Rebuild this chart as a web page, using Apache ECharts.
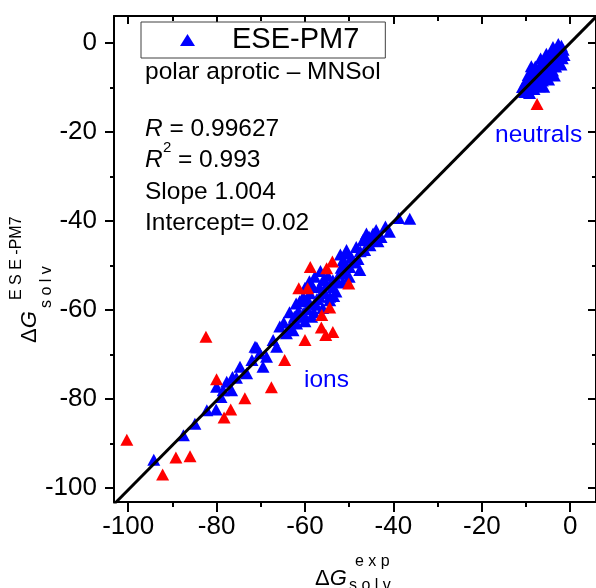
<!DOCTYPE html>
<html><head><meta charset="utf-8">
<script src="https://cdn.jsdelivr.net/npm/echarts@6/dist/echarts.min.js"></script>
<style>html,body{margin:0;padding:0;background:#fff}#c{width:596px;height:588px}</style>
</head><body><div id="c"></div>
<script>
// ESE-PM7 (blue) – neutrals
const neutralExp  = [-10.8,-10.3,-10.0,-9.6,-9.2,-9.0,-8.7,-8.5,-8.2,-8.0,-7.6,-7.3,-7.0,-6.8,-6.5,-6.3,-6.0,-5.7,-5.5,-5.2,-5.0,-4.8,-4.5,-4.2,-4.0,-3.8,-3.5,-3.3,-3.0,-2.8,-2.5,-2.3,-2.0,-1.8,-1.6,-9.8,-7.9,-6.1,-3.9,-4.9,-9.5,-8.8,-6.7,-5.4,-2.1,-3.6,-6.0,-1.4,-2.7];
const neutralCalc = [-9.9,-11.0,-8.6,-10.2,-11.2,-8.0,-9.4,-6.3,-10.3,-7.7,-8.8,-6.0,-9.7,-7.1,-5.2,-8.4,-6.4,-4.6,-7.6,-5.6,-3.4,-6.9,-4.7,-2.6,-6.2,-3.9,-1.8,-5.3,-3.1,-1.0,-4.3,-2.2,-0.6,-3.4,-1.5,-9.0,-5.3,-3.9,-0.9,-8.2,-7.2,-5.2,-3.5,-2.4,-4.8,-7.3,-9.8,-2.7,-0.2];
// ESE-PM7 (blue) – ions
const ionExp  = [-94.2,-87.5,-84.9,-82.2,-80.1,-80.0,-78.5,-77.7,-76.6,-75.5,-74.7,-73.2,-71.3,-70.9,-70.2,-69.5,-68.7,-66.4,-65.7,-63.4,-62.7,-61.9,-60.4,-60.4,-59.7,-58.9,-58.9,-58.2,-56.7,-56.7,-55.9,-54.4,-54.4,-53.7,-53.7,-52.1,-51.4,-50.6,-50.6,-49.9,-47.6,-48.4,-46.9,-46.1,-44.6,-43.9,-40.9,-38.8,-36.3,-61.2,-61.5,-60.8,-59.5,-58.0,-57.5,-57.3,-55.5,-55.0,-54.8,-53.0,-52.6,-51.8,-51.0,-50.0,-49.5,-48.8,-47.5,-45.3,-44.8,-42.8,-41.8,-62.4,-64.2,-67.2,-72.0,-76.4,-79.0,-57.8,-56.5,-59.0,-60.0,-62.0,-63.5,-52.0,-50.8,-48.0,-46.5,-45.5,-43.5,-64.8,-58.5,-56.0,-53.5,-51.5,-60.0];
const ionCalc = [-93.6,-88.1,-85.5,-82.5,-82.3,-77.2,-78.0,-76.1,-78.0,-75.2,-72.7,-74.2,-68.2,-68.4,-69.7,-72.7,-70.5,-68.2,-63.7,-63.7,-64.5,-63.0,-60.7,-57.0,-57.8,-58.5,-56.2,-54.8,-57.0,-54.8,-53.3,-57.8,-57.0,-54.8,-53.3,-51.8,-48.8,-47.3,-46.5,-50.3,-51.0,-45.8,-44.3,-42.8,-42.8,-42.0,-42.4,-39.3,-39.5,-58.0,-60.2,-61.5,-59.8,-60.5,-58.8,-57.5,-56.2,-54.3,-52.3,-55.8,-53.6,-50.5,-51.8,-52.5,-48.2,-49.3,-46.8,-45.4,-44.0,-43.6,-41.2,-61.5,-65.2,-66.7,-71.2,-75.0,-79.5,-52.5,-51.2,-53.5,-55.0,-58.5,-60.5,-47.5,-49.8,-48.5,-46.5,-43.5,-44.5,-62.8,-61.5,-59.5,-56.8,-53.8,-62.5];
// red points
const redExp  = [-100.3,-92.2,-89.2,-86.0,-82.4,-80.0,-78.3,-76.8,-73.6,-67.6,-64.6,-60.0,-61.4,-59.4,-58.8,-56.2,-56.3,-55.3,-53.7,-54.4,-55.1,-53.8,-50.1,-7.5];
const redCalc = [-89.1,-96.9,-93.1,-92.8,-66.0,-75.5,-84.1,-82.3,-79.8,-77.3,-71.2,-66.7,-55.1,-55.1,-50.3,-61.1,-63.9,-65.6,-64.9,-59.4,-50.6,-49.1,-54.0,-13.7];
// ticks
const majorTicks = [-100,-80,-60,-40,-20,0];
const minorTicks = [-90,-70,-50,-30,-10];
// fit
const fitSlope = 1.004, fitIntercept = 0.02;
const xMin = -103.2, xMax = 5.83, yMin = -103.1, yMax = 6.07;

const FF = 'Liberation Sans, Arial, sans-serif';
const chart = echarts.init(document.getElementById('c'));

function xa(pos, vals, len, inside, showLabel, showLine){
  return {type:'value', position:pos, min:xMin, max:xMax,
    axisLine:{show:showLine, onZero:false, lineStyle:{color:'#000', width:2}},
    axisTick:{show:true, customValues:vals, inside:inside, length:len, lineStyle:{color:'#000', width:2}},
    axisLabel:{show:showLabel, customValues:vals, fontSize:26, color:'#000', fontFamily:FF, margin:12},
    splitLine:{show:false}, minorTick:{show:false}};
}
function ya(pos, vals, len, inside, showLabel, showLine){
  return {type:'value', position:pos, min:yMin, max:yMax,
    axisLine:{show:showLine, onZero:false, lineStyle:{color:'#000', width:2}},
    axisTick:{show:true, customValues:vals, inside:inside, length:len, lineStyle:{color:'#000', width:2}},
    axisLabel:{show:showLabel, customValues:vals, fontSize:26, color:'#000', fontFamily:FF, margin:17},
    splitLine:{show:false}, minorTick:{show:false}};
}

const blueData = neutralExp.map((x,i)=>[x, neutralCalc[i]]).concat(ionExp.map((x,i)=>[x, ionCalc[i]]));
const redData = redExp.map((x,i)=>[x, redCalc[i]]);
const fitData = [[xMin, fitSlope*xMin+fitIntercept],[xMax, fitSlope*xMax+fitIntercept]];

function txt(x, y, text, size, opts){
  opts = opts || {};
  return {type:'text', x:x, y:y, rotation:opts.rot||0, z:100,
    style:{text:text, fontSize:size, fontFamily:FF, fontStyle:opts.italic?'italic':'normal',
      fill:opts.color||'#000', align:'left', verticalAlign:'middle', rich:opts.rich}};
}
const richI = (s)=>({i:{fontStyle:'italic', fontSize:s, fontFamily:FF, fill:'#000'}, n:{fontSize:s, fontFamily:FF, fill:'#000'}});

chart.setOption({
  animation:false,
  backgroundColor:'#fff',
  grid:{left:114, top:16, width:483, height:486, containLabel:false},
  xAxis:[xa('bottom', majorTicks, 10, false, true, true), xa('bottom', minorTicks, 5, false, false, false),
         xa('top', majorTicks, 8, true, false, true), xa('top', minorTicks, 5, true, false, false)],
  yAxis:[ya('left', majorTicks, 9, false, true, true), ya('left', minorTicks, 4, false, false, false),
         ya('right', majorTicks, 8, true, false, true), ya('right', minorTicks, 4, true, false, false)],
  legend:{data:['ESE-PM7'], left:141, top:22, orient:'horizontal', icon:'triangle', itemWidth:15, itemHeight:12,
    padding:[3,26,3,39], borderColor:'#404040', borderWidth:1, backgroundColor:'#fff',
    textStyle:{fontSize:29, lineHeight:30, color:'#000', fontFamily:FF, padding:[0,0,0,32]}, selectedMode:false},
  series:[
    {name:'ESE-PM7', type:'scatter', data:blueData, symbol:'triangle', symbolSize:[13,12], itemStyle:{color:'#0000ff', opacity:1}, z:2},
    {name:'other', type:'scatter', data:redData, symbol:'triangle', symbolSize:[13,12], itemStyle:{color:'#ff0000', opacity:1}, z:3},
    {name:'fit', type:'line', data:fitData, symbol:'none', lineStyle:{color:'#000', width:3}, z:4, silent:true}
  ],
  graphic:[
    txt(145, 72, 'polar aprotic – MNSol', 24.5),
    txt(145, 129.5, '{i|R} = 0.99627', 24.5, {rich:richI(24.5)}),
    txt(145, 160.5, 'R', 24.5, {italic:true}),
    txt(163, 148, '2', 15),
    txt(178, 160.5, '= 0.993', 24.5),
    txt(145, 192.5, 'Slope 1.004', 24.5),
    txt(145, 223.5, 'Intercept= 0.02', 24.5),
    txt(495, 135, 'neutrals', 24.5, {color:'#0000ff'}),
    txt(304, 380, 'ions', 24.5, {color:'#0000ff'}),
    // x axis title
    txt(315, 579.3, '{n|Δ}{i|G}', 22, {rich:richI(22)}),
    txt(355, 561.4, 'e x p', 16),
    txt(349, 585.4, 's o l v', 16),
    // y axis title
    txt(30.3, 343, '{n|Δ}{i|G}', 22, {rich:richI(22), rot:Math.PI/2}),
    txt(16.4, 300, 'E S E -PM7', 16, {rot:Math.PI/2}),
    txt(46.4, 308, 's o l v', 16, {rot:Math.PI/2})
  ]
});
</script></body></html>
